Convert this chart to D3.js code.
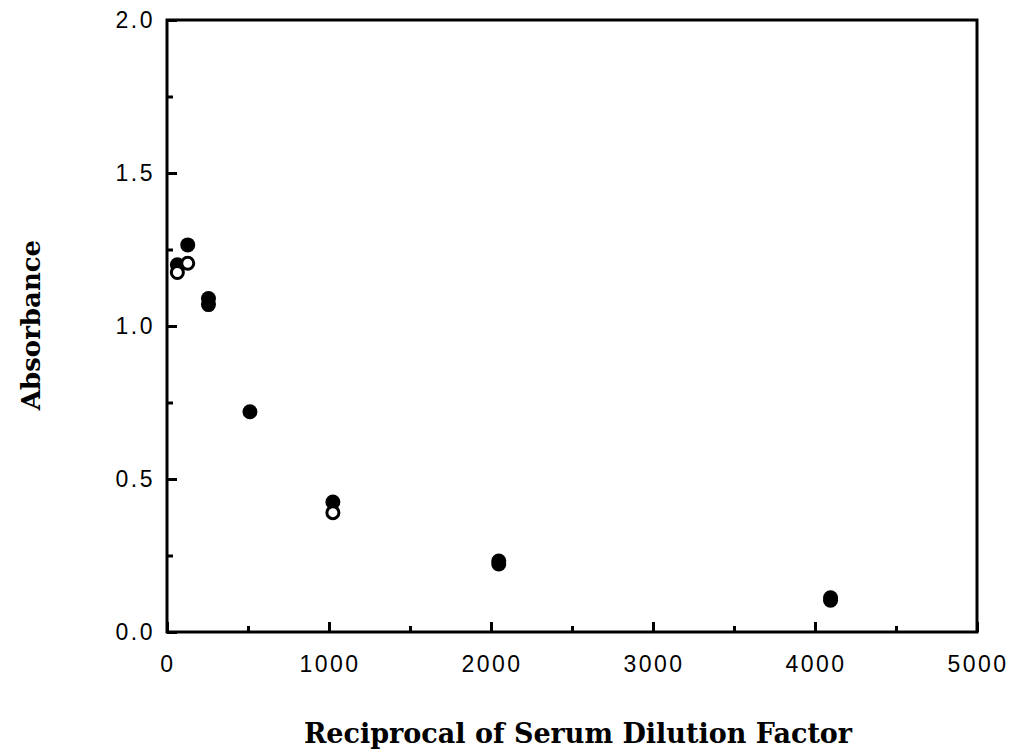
<!DOCTYPE html>
<html>
<head>
<meta charset="utf-8">
<script src="https://cdn.jsdelivr.net/npm/d3@7"></script>
<style>
    body { margin: 0; background: #fff; }
    .tick-label { font-family: "Liberation Sans", Arial, sans-serif; font-size: 23px; letter-spacing: 2.5px; fill: #000; }
    .title { font-family: "DejaVu Serif", serif; font-weight: bold; font-size: 27px; fill: #000; }
</style>
</head>
<body>
<div class="container"></div>
<script>
const WIDTH = 1017,
    HEIGHT = 754,
    LEFT = 167, RIGHT = 977, TOP = 20, BOTTOM = 632;

// reciprocal dilution factors and absorbance readings
var filledX = [64, 128, 256, 256, 512, 1024, 2048, 2048, 4096, 4096];
var filledY = [1.20, 1.265, 1.09, 1.07, 0.72, 0.425, 0.232, 0.222, 0.112, 0.104];
var openX = [64, 128, 1024];
var openY = [1.175, 1.205, 0.39];

var xMajor = [0, 1000, 2000, 3000, 4000, 5000];
var xMinor = [500, 1500, 2500, 3500, 4500];
var yMajor = [0, 0.5, 1.0, 1.5, 2.0];
var yMinor = [0.25, 0.75, 1.25, 1.75];

var translate = (x, y) => "translate(" + x + "," + y + ")";

var svg = d3.select('.container').append('svg')
    .attr('width', WIDTH)
    .attr('height', HEIGHT);

var x = d3.scaleLinear().domain([0, 5000]).range([LEFT, RIGHT]);
var y = d3.scaleLinear().domain([0, 2]).range([BOTTOM, TOP]);

// frame
svg.append('rect')
    .attr('x', LEFT).attr('y', TOP)
    .attr('width', RIGHT - LEFT).attr('height', BOTTOM - TOP)
    .attr('fill', 'none').attr('stroke', '#000').attr('stroke-width', 3);

// inward ticks
var xAxis = d3.axisTop(x).tickValues(xMajor).tickSize(10).tickFormat('');
var xAxisMinor = d3.axisTop(x).tickValues(xMinor).tickSize(6).tickFormat('');
var yAxis = d3.axisRight(y).tickValues(yMajor).tickSize(10).tickFormat('');
var yAxisMinor = d3.axisRight(y).tickValues(yMinor).tickSize(6).tickFormat('');

[[xAxis, translate(0, BOTTOM)], [xAxisMinor, translate(0, BOTTOM)],
 [yAxis, translate(LEFT, 0)], [yAxisMinor, translate(LEFT, 0)]].forEach(([ax, tr]) => {
    var g = svg.append('g').attr('transform', tr).call(ax);
    g.select('.domain').remove();
    g.selectAll('.tick line').attr('stroke', '#000').attr('stroke-width', 3);
});

// tick labels
svg.selectAll('.xlab').data(xMajor).enter().append('text')
    .classed('tick-label', true)
    .attr('x', d => x(d) + 1)
    .attr('y', 672)
    .attr('text-anchor', 'middle')
    .text(d => d);

svg.selectAll('.ylab').data(yMajor).enter().append('text')
    .classed('tick-label', true)
    .attr('x', 155)
    .attr('y', d => y(d) + 8)
    .attr('text-anchor', 'end')
    .text(d => d.toFixed(1));

// points
svg.append('g').selectAll('circle').data(d3.zip(filledX, filledY)).enter()
    .append('circle')
    .attr('cx', d => x(d[0]))
    .attr('cy', d => y(d[1]))
    .attr('r', 7.5)
    .attr('fill', '#000');

svg.append('g').selectAll('circle').data(d3.zip(openX, openY)).enter()
    .append('circle')
    .attr('cx', d => x(d[0]))
    .attr('cy', d => y(d[1]))
    .attr('r', 6)
    .attr('fill', '#fff')
    .attr('stroke', '#000')
    .attr('stroke-width', 3);

// titles
svg.append('text')
    .classed('title', true)
    .attr('x', 578)
    .attr('y', 743)
    .attr('text-anchor', 'middle')
    .text('Reciprocal of Serum Dilution Factor');

svg.append('text')
    .classed('title', true)
    .style('font-size', '26px')
    .attr('transform', translate(40, 325) + ' rotate(-90)')
    .attr('text-anchor', 'middle')
    .text('Absorbance');
</script>
</body>
</html>
